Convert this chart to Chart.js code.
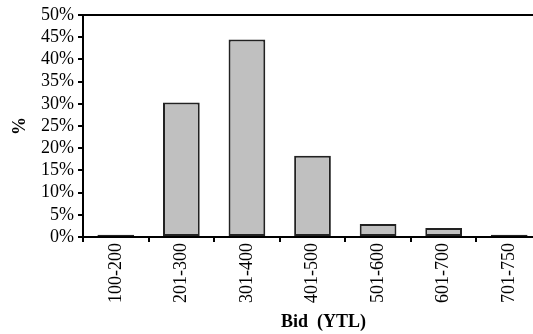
<!DOCTYPE html>
<html>
<head>
<meta charset="utf-8">
<script src="https://cdn.jsdelivr.net/npm/chart.js@4"></script>
<style>
  html, body { margin: 0; padding: 0; background: #fff; overflow: hidden; }
  #wrap { width: 542px; height: 334px; }
</style>
</head>
<body>
<div id="wrap"><canvas id="chart" width="542" height="334"></canvas></div>
<script>
// bid ranges and share of bids (%)
const bidRanges = ["100-200", "201-300", "301-400", "401-500", "501-600", "601-700", "701-750"];
const bidShare = [0.5, 30.3, 44.5, 18.3, 2.9, 2.0, 0.5];
const yTicks = [0, 5, 10, 15, 20, 25, 30, 35, 40, 45, 50];
const xTitle = "Bid  (YTL)";

const FONT = "'Liberation Serif', 'Times New Roman', serif";

// top edge of the plot frame + x axis title (sits a bit right of centre in the original)
const frame = {
  id: "frame",
  afterDraw(chart) {
    const { ctx, chartArea: a } = chart;
    ctx.save();
    ctx.strokeStyle = "#000";
    ctx.lineWidth = 2;
    ctx.beginPath();
    ctx.moveTo(a.left, a.top);
    ctx.lineTo(a.right, a.top);
    ctx.stroke();
    ctx.fillStyle = "#000";
    ctx.font = "bold 18px " + FONT;
    ctx.textAlign = "center";
    ctx.textBaseline = "middle";
    ctx.fillText(xTitle, (a.left + a.right) / 2 + 11, 322);
    ctx.restore();
  },
};

new Chart(document.getElementById("chart"), {
  type: "bar",
  data: {
    labels: bidRanges,
    datasets: [
      {
        data: bidShare,
        backgroundColor: "#c0c0c0",
        borderColor: "#222",
        borderWidth: 2,
        borderSkipped: false,
        categoryPercentage: 0.56,
        barPercentage: 1,
      },
    ],
  },
  options: {
    responsive: false,
    animation: false,
    layout: { padding: { top: 15, right: 0, left: 0, bottom: 0 } },
    plugins: { legend: { display: false }, tooltip: { enabled: false } },
    scales: {
      x: {
        grid: { drawOnChartArea: false, drawTicks: true, tickLength: 5, color: "#000", lineWidth: 2 },
        border: { color: "#000", width: 2 },
        ticks: { font: { family: FONT, size: 18 }, color: "#000", minRotation: 90, maxRotation: 90, padding: 1, autoSkip: false },
        afterFit: (s) => { s.height = 97; },
      },
      y: {
        min: 0,
        max: 50,
        afterBuildTicks: (s) => { s.ticks = yTicks.map((v) => ({ value: v })); },
        grid: { drawOnChartArea: false, drawTicks: true, tickLength: 5, color: "#000", lineWidth: 2 },
        border: { color: "#000", width: 2 },
        ticks: { font: { family: FONT, size: 18 }, color: "#000", padding: 4, autoSkip: false, callback: (v) => v + "%" },
        title: { display: true, text: "%", font: { family: FONT, size: 18, weight: "bold" }, color: "#000", padding: { top: 10, bottom: 0 } },
        afterFit: (s) => { s.width = 83; },
      },
    },
  },
  plugins: [frame],
});
</script>
</body>
</html>
